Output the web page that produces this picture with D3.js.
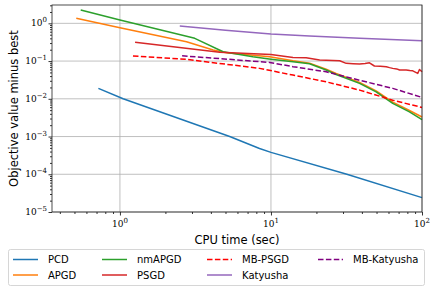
<!DOCTYPE html>
<html>
<head>
<meta charset="utf-8">
<script src="https://cdn.jsdelivr.net/npm/d3@7"></script>
<style>
  body { margin: 0; background: #fff; }
  svg { display: block; }
</style>
</head>
<body>
<div id="chart"></div>
<script>
// Series: [CPU time (sec), objective value minus best]
const pcd = [[0.72, 0.0189], [1.05, 0.01], [5.33, 0.001], [8.4, 0.00048], [10, 0.00038], [31.8, 0.0001], [100, 0.000024]];
const apgd = [[0.514, 1.36], [1, 0.76], [2.76, 0.325], [4.14, 0.196], [5.07, 0.166], [9.8, 0.13], [14, 0.102], [18, 0.088], [23.2, 0.061], [27, 0.047], [38.6, 0.027], [49.7, 0.0162], [64, 0.0082], [82.6, 0.0049], [100, 0.0033]];
const nmapgd = [[0.55, 2.25], [1, 1.22], [3.13, 0.4], [4.82, 0.177], [7.6, 0.13], [10, 0.112], [14, 0.096], [18, 0.085], [23.2, 0.058], [27, 0.044], [38.6, 0.0256], [49.7, 0.0153], [64, 0.0076], [82.6, 0.0045], [100, 0.0028]];
const psgd = [[1.26, 0.313], [4.58, 0.17], [8.4, 0.153], [10, 0.15], [14, 0.125], [17.1, 0.122], [21, 0.106], [28.5, 0.102], [31.5, 0.087], [35, 0.085], [38.6, 0.083], [42, 0.086], [44.9, 0.09], [48.4, 0.074], [53, 0.073], [58, 0.071], [61, 0.067], [64, 0.064], [68, 0.062], [71, 0.058], [78.5, 0.058], [83, 0.056], [86.9, 0.055], [93.7, 0.047], [96.2, 0.06], [100, 0.052]];
const mbPsgd = [[1.22, 0.136], [2.76, 0.111], [8.4, 0.064], [14, 0.0425], [23.2, 0.0282], [38.6, 0.017], [64, 0.0092], [100, 0.0059]];
const katyusha = [[2.49, 0.85], [5, 0.66], [10, 0.52], [18, 0.46], [38.6, 0.4], [100, 0.346]];
const mbKatyusha = [[2.58, 0.138], [9.8, 0.092], [14, 0.071], [23.2, 0.052], [38.6, 0.031], [64, 0.0189], [100, 0.0109]];

const seriesNames = ["PCD", "APGD", "nmAPGD", "PSGD", "MB-PSGD", "Katyusha", "MB-Katyusha"];
const seriesData = [pcd, apgd, nmapgd, psgd, mbPsgd, katyusha, mbKatyusha];
const seriesColors = ["#1f77b4", "#ff7f0e", "#2ca02c", "#d62728", "#ff0000", "#9467bd", "#800080"];
const seriesDashed = [false, false, false, false, true, false, true];

const xMajor = [1, 10, 100];
const yMajor = [1e-5, 1e-4, 1e-3, 1e-2, 1e-1, 1];

const W = 436, H = 291;
const margin = { top: 5, right: 14, bottom: 79, left: 52 };
const width = W - margin.left - margin.right;
const height = H - margin.top - margin.bottom;

const svg = d3.select("#chart").append("svg")
    .attr("width", W)
    .attr("height", H);

const g = svg.append("g")
    .attr("transform", "translate(" + margin.left + "," + margin.top + ")");

const x = d3.scaleLog().domain([0.355, 100]).range([0, width]);
const y = d3.scaleLog().domain([1e-5, 3.06]).range([height, 0]);

// grid
g.selectAll(".xgrid").data(xMajor).enter().append("line")
    .attr("x1", d => x(d)).attr("x2", d => x(d))
    .attr("y1", 0).attr("y2", height)
    .style("stroke", "#b0b0b0").style("stroke-width", 0.8);
g.selectAll(".ygrid").data(yMajor).enter().append("line")
    .attr("x1", 0).attr("x2", width)
    .attr("y1", d => y(d)).attr("y2", d => y(d))
    .style("stroke", "#b0b0b0").style("stroke-width", 0.8);

// minor ticks
const xMinor = [];
[0.1, 1, 10].forEach(b => { for (let k = 2; k <= 9; k++) { const v = b * k; if (v >= 0.355 && v <= 100) xMinor.push(v); } });
const yMinor = [];
[1e-5, 1e-4, 1e-3, 1e-2, 1e-1, 1].forEach(b => { for (let k = 2; k <= 9; k++) { const v = b * k; if (v <= 3.06) yMinor.push(v); } });

const xAxis = d3.axisBottom(x).tickValues(xMajor).tickSize(3.5).tickSizeOuter(0).tickFormat("");
const yAxis = d3.axisLeft(y).tickValues(yMajor).tickSize(3.5).tickSizeOuter(0).tickFormat("");

const xg = g.append("g").attr("transform", "translate(0," + height + ")").call(xAxis);
xg.append("g").call(d3.axisBottom(x).tickValues(xMinor).tickSize(2).tickSizeOuter(0).tickFormat(""));
const yg = g.append("g").call(yAxis);
yg.append("g").call(d3.axisLeft(y).tickValues(yMinor).tickSize(2).tickSizeOuter(0).tickFormat(""));
g.selectAll(".domain").remove();
g.selectAll(".tick line").style("stroke", "#000").style("stroke-width", 0.8);

// tick labels as 10^n
function powLabel(sel, v) {
    const e = Math.round(Math.log10(v));
    sel.append("tspan").text("10");
    sel.append("tspan").attr("dy", -4).style("font-size", "7px").text(e < 0 ? "\u2212" + (-e) : e);
}
xMajor.forEach(v => {
    const t = g.append("text")
        .attr("x", x(v)).attr("y", height + 15)
        .attr("text-anchor", "middle")
        .style("font-family", "'DejaVu Serif', serif").style("font-size", "9px").style("fill", "#000");
    powLabel(t, v);
});
yMajor.forEach(v => {
    const t = g.append("text")
        .attr("x", -5).attr("y", y(v) + 3)
        .attr("text-anchor", "end")
        .style("font-family", "'DejaVu Serif', serif").style("font-size", "9px").style("fill", "#000");
    powLabel(t, v);
});

// series
const line = d3.line().x(d => x(d[0])).y(d => y(d[1]));
const plot = g.append("g");
seriesData.forEach((data, i) => {
    plot.append("path")
        .datum(data)
        .attr("d", line)
        .style("fill", "none")
        .style("stroke", seriesColors[i])
        .style("stroke-width", 1.5)
        .style("stroke-linejoin", "round")
        .style("stroke-dasharray", seriesDashed[i] ? "5.5,2.4" : null);
});

// frame
g.append("rect")
    .attr("width", width).attr("height", height)
    .style("fill", "none").style("stroke", "#222").style("stroke-width", 0.8);

// axis labels
svg.append("text")
    .attr("x", margin.left + width / 2).attr("y", 244)
    .attr("text-anchor", "middle")
    .style("font-family", "'DejaVu Sans', sans-serif").style("font-size", "11.5px")
    .text("CPU time (sec)");
svg.append("text")
    .attr("transform", "translate(18," + (margin.top + height / 2) + ") rotate(-90)")
    .attr("text-anchor", "middle")
    .style("font-family", "'DejaVu Sans', sans-serif").style("font-size", "11.5px")
    .text("Objective value minus best");

// legend (4 columns, filled column by column)
const legend = svg.append("g");
legend.append("rect")
    .attr("x", 8.5).attr("y", 249.5).attr("width", 416).attr("height", 36).attr("rx", 2)
    .style("fill", "#fff").style("stroke", "#ccc").style("stroke-width", 0.8);
const colX = [13, 102, 207, 318];
const rowY = [259.5, 275];
seriesNames.forEach((name, i) => {
    const col = Math.floor(i / 2), row = i % 2;
    const lg = legend.append("g").attr("transform", "translate(" + colX[col] + "," + rowY[row] + ")");
    lg.append("line")
        .attr("x1", 0).attr("x2", 25).attr("y1", 0).attr("y2", 0)
        .style("stroke", seriesColors[i]).style("stroke-width", 1.5)
        .style("stroke-dasharray", seriesDashed[i] ? "5.5,2.4" : null);
    lg.append("text")
        .attr("x", 35).attr("y", 3.5)
        .style("font-family", "'DejaVu Sans', sans-serif").style("font-size", "10px")
        .text(name);
});
</script>
</body>
</html>
